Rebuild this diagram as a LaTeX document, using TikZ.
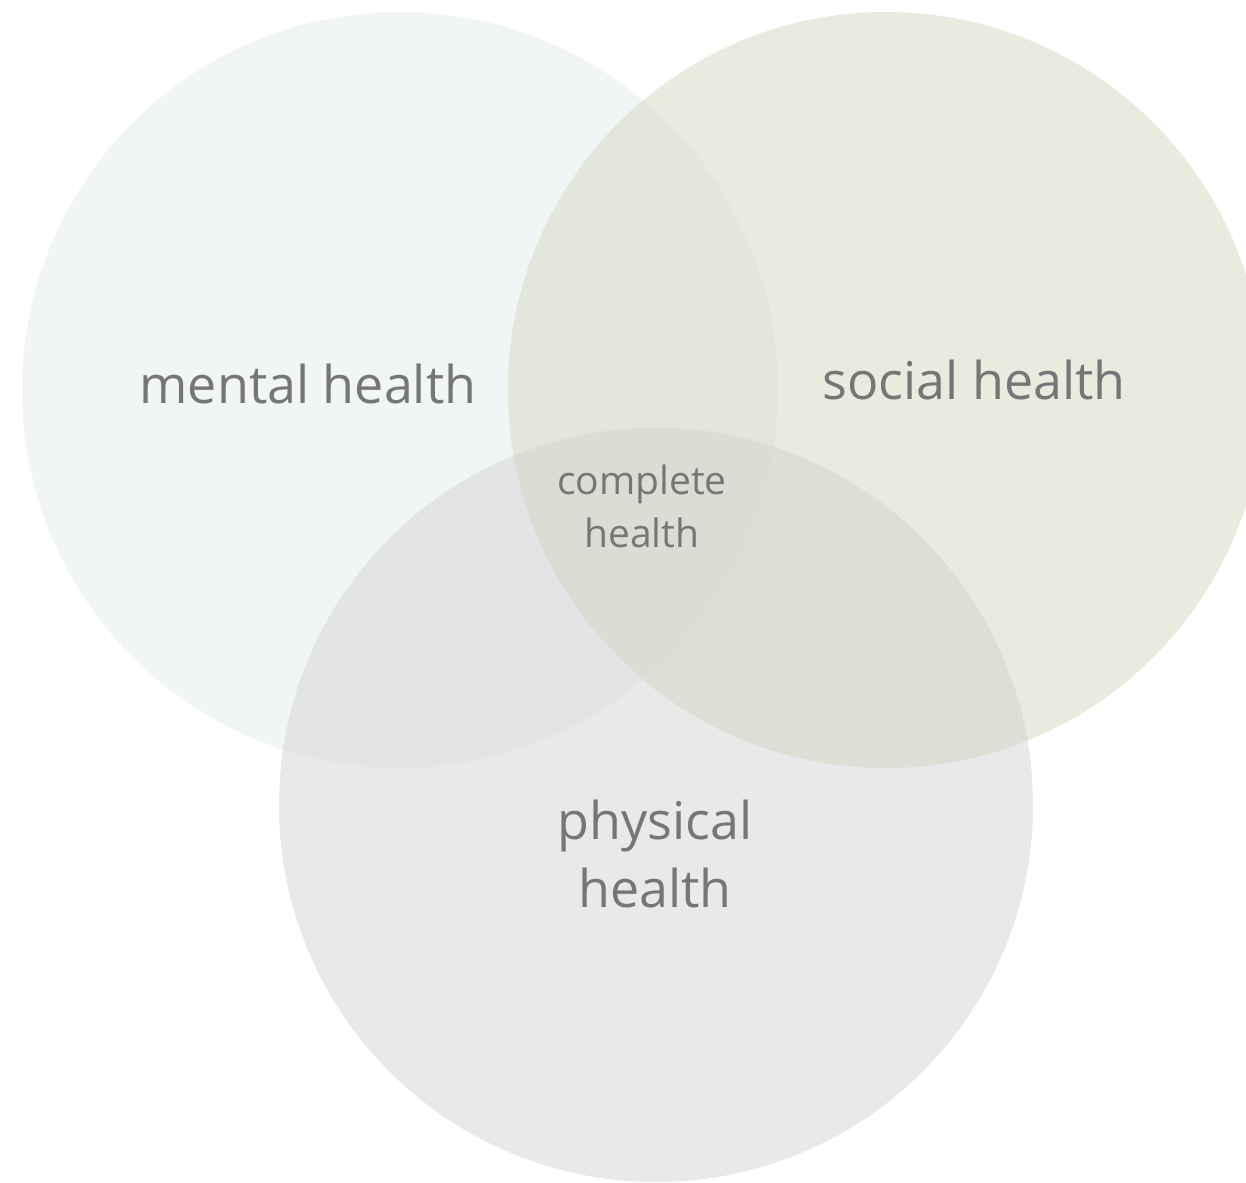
\documentclass[tikz,border=0pt]{standalone}
\usepackage{fontspec}
\setmainfont{Open Sans}
\definecolor{cM}{HTML}{F2F5F6}
\definecolor{cS}{HTML}{E9EBDE}
\definecolor{cP}{HTML}{E9E9E9}
\definecolor{cMS}{HTML}{E3E6DA}
\definecolor{cMP}{HTML}{E3E4E6}
\definecolor{cSP}{HTML}{DDDED5}
\definecolor{cMSP}{HTML}{DBDCD4}
\definecolor{txt}{HTML}{767676}
\tikzset{
  lbl/.style={text=txt, align=center, inner sep=0pt},
  big/.style={lbl, font=\fontsize{52}{68}\selectfont},
  small/.style={lbl, font=\fontsize{39}{53}\selectfont}
}
\begin{document}
\begin{tikzpicture}[x=1pt,y=-1pt]
\useasboundingbox (0,0) rectangle (1246,1182);
\begin{scope}
\clip (0,0) rectangle (1246,1182);
\def\M{(400,390) circle (378)}
\def\S{(886,390) circle (378)}
\def\P{(656,805) circle (377)}
\fill[cM] \M;
\fill[cS] \S;
\fill[cP] \P;
\begin{scope}\clip \M; \fill[cMS] \S; \fill[cMP] \P; \end{scope}
\begin{scope}\clip \S; \fill[cSP] \P; \end{scope}
\begin{scope}\clip \M; \clip \S; \fill[cMSP] \P; \end{scope}
\end{scope}
\node[big] (mental) at (308,384) {mental health};
\node[big] (social) at (974,380) {social health};
\node[small] (complete) at (642,506) {complete\\health};
\node[big] (physical) at (655,854) {physical\\health};
\end{tikzpicture}
\end{document}
